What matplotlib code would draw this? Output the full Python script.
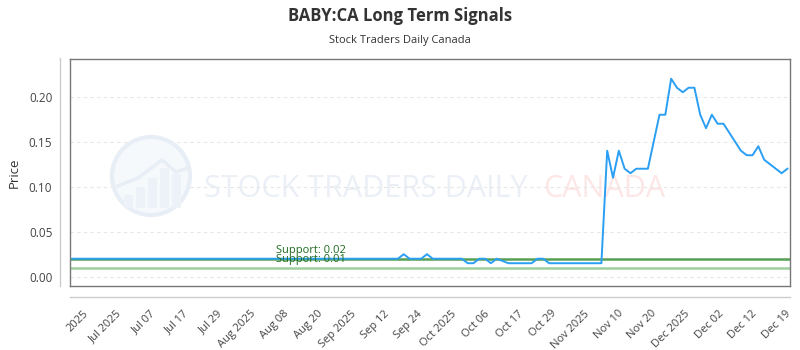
import matplotlib
matplotlib.use('Agg')

import matplotlib.pyplot as plt
from matplotlib.lines import Line2D
from matplotlib.patches import Circle, Rectangle

plt.rcParams['font.family'] = ['Open Sans', 'DejaVu Sans']

title = 'BABY:CA Long Term Signals'
subtitle = 'Stock Traders Daily Canada'

# daily prices, one entry per trading day
prices = ([0.02] * 57 +
          [0.025, 0.02, 0.02, 0.02, 0.025, 0.02, 0.02, 0.02, 0.02, 0.02, 0.02,
           0.015, 0.015, 0.02, 0.02, 0.015, 0.02, 0.0175, 0.015, 0.015, 0.015,
           0.015, 0.015, 0.02, 0.02, 0.015, 0.015, 0.015, 0.015, 0.015, 0.015,
           0.015, 0.015, 0.015, 0.015] +
          [0.14, 0.11, 0.14, 0.12, 0.115, 0.12, 0.12, 0.12, 0.15, 0.18, 0.18,
           0.22, 0.21, 0.205, 0.21, 0.21, 0.18, 0.165, 0.18, 0.17, 0.17, 0.16,
           0.15, 0.14, 0.135, 0.135, 0.145, 0.13, 0.125, 0.12, 0.115, 0.12])

tick_labels = ['2025', 'Jul 2025', 'Jul 07', 'Jul 17', 'Jul 29', 'Aug 2025',
               'Aug 08', 'Aug 20', 'Sep 2025', 'Sep 12', 'Sep 24', 'Oct 2025',
               'Oct 06', 'Oct 17', 'Oct 29', 'Nov 2025', 'Nov 10', 'Nov 20',
               'Dec 2025', 'Dec 02', 'Dec 12', 'Dec 19']

supports = [0.02, 0.01]
support_colors = ['#55a055', '#9fcf9f']

fig = plt.figure(figsize=(8, 3.5), dpi=100)
ax = fig.add_axes([0.0879, 0.1829, 0.9, 0.6477])
ax.set_facecolor('none')

x = list(range(len(prices)))
ax.set_xlim(-0.35, len(prices) - 0.5)
ax.set_ylim(-0.0103, 0.2416)

# watermark logo, drawn in pixel space so it stays round
px = fig.dpi_scale_trans
fig.add_artist(Circle((1.51, 1.74), 0.39, transform=px, facecolor='#f6f9fc',
                      edgecolor='#e8eef6', lw=3, zorder=0.5))
for bx, top in zip([1.24, 1.36, 1.48, 1.60, 1.72], [1.55, 1.63, 1.72, 1.82, 1.76]):
    fig.add_artist(Rectangle((bx, 1.42), 0.09, top - 1.42, transform=px,
                             facecolor='#edf2f8', edgecolor='none', zorder=0.6))
fig.add_artist(Line2D([1.18, 1.38, 1.62, 1.76, 1.88], [1.64, 1.72, 1.90, 1.78, 1.82],
                      transform=px, color='#e8eef6', lw=2.5, zorder=0.6))
ax.text(0.185, 0.43, 'STOCK TRADERS DAILY', transform=ax.transAxes,
        fontsize=22, color='#ebeff6', va='center', ha='left', zorder=0)
ax.text(0.657, 0.43, 'CANADA', transform=ax.transAxes,
        fontsize=22, color='#fde6e6', va='center', ha='left', zorder=0)

for lvl, col in zip(supports, support_colors):
    ax.axhline(lvl, color=col, lw=1.8, zorder=2)
    ax.text(35.0, lvl + 0.0035, f'Support: {lvl:.2f}', color='#1e6b1e',
            fontsize=8, va='bottom', ha='left', zorder=4)

ax.plot(x, prices, color='#2a9ff3', lw=1.4, zorder=3)

ax.set_yticks([0.0, 0.05, 0.10, 0.15, 0.20])
ax.set_yticklabels(['0.00', '0.05', '0.10', '0.15', '0.20'])
ax.yaxis.grid(True, linestyle=(0, (3, 3)), color='#e6e6e6', lw=0.8)
ax.set_axisbelow(True)

first_tick, last_tick = 1.8, 122.6
step = (last_tick - first_tick) / (len(tick_labels) - 1)
ax.set_xticks([first_tick + i * step for i in range(len(tick_labels))])
ax.set_xticklabels(tick_labels, rotation=45, ha='right',
                   rotation_mode='anchor')

ax.tick_params(axis='y', length=0, pad=13, labelsize=8.5, labelcolor='#444444')
ax.tick_params(axis='x', length=0, pad=16, labelsize=8, labelcolor='#444444')

for s in ax.spines.values():
    s.set_color('#777777')
    s.set_linewidth(1)

ax.set_ylabel('Price', fontsize=9.5, color='#333333', labelpad=6)

# outer axis lines
fig.add_artist(Line2D([60 / 800, 60 / 800], [1 - 58 / 350, 1 - 286 / 350],
                      color='#cccccc', lw=1))
fig.add_artist(Line2D([70 / 800, 790 / 800], [1 - 296.5 / 350, 1 - 296.5 / 350],
                      color='#cccccc', lw=1))

fig.text(0.5, 1 - 16 / 350, title, ha='center', va='center',
         fontsize=12, fontweight='bold', color='#333333')
fig.text(0.5, 1 - 40 / 350, subtitle, ha='center', va='center',
         fontsize=8, color='#333333')

fig.savefig('out.png', dpi=100)
